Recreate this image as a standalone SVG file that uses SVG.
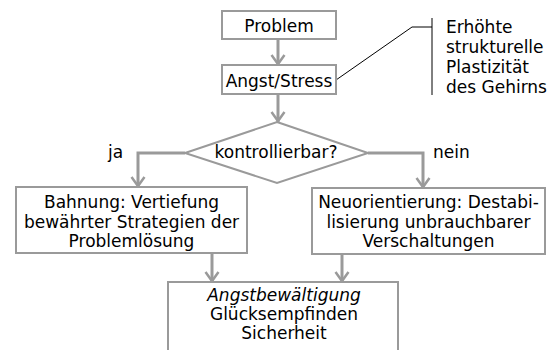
<svg xmlns="http://www.w3.org/2000/svg" width="549" height="350" viewBox="0 0 549 350">
<style>
.box{fill:#fff;stroke:#9a9a9a;stroke-width:2}
.t{font-family:"DejaVu Sans",Verdana,sans-serif;font-size:17px;fill:#000}
.c{text-anchor:middle}
.it{font-style:italic}
.arr{fill:none;stroke:#9a9a9a;stroke-width:3;marker-end:url(#ah)}
.ann{fill:none;stroke:#000;stroke-width:1}
</style>
<defs>
<marker id="ah" markerUnits="userSpaceOnUse" markerWidth="20" markerHeight="20" viewBox="-12 -10 14 20" refX="0" refY="0" orient="auto" overflow="visible">
<path d="M-10,-6.5 L-1,0 L-10,6.5" fill="none" stroke="#9a9a9a" stroke-width="2.5"/>
</marker>
</defs>
<rect width="549" height="350" fill="#fff"/>
<g id="connectors">
<line class="arr" x1="278" y1="39" x2="278" y2="65"/>
<line class="arr" x1="278" y1="94" x2="278" y2="122"/>
<polyline class="arr" points="185,153 138,153 138,187"/>
<polyline class="arr" points="368,153 423,153 423,188"/>
<line class="arr" x1="212" y1="253" x2="212" y2="282"/>
<line class="arr" x1="342" y1="254" x2="342" y2="282"/>
<polyline class="ann" points="336,80 412,27 432,27"/>
</g>
<g id="problem">
<rect class="box" x="222" y="11" width="114" height="28"/>
<text class="t c" x="279" y="32">Problem</text>
</g>
<g id="angst">
<rect class="box" x="222" y="65" width="114" height="29"/>
<text class="t c" x="279" y="87">Angst/Stress</text>
</g>
<g id="annotation">
<line class="ann" x1="432" y1="18" x2="432" y2="95"/>
<text class="t" x="446" y="33">Erhöhte</text>
<text class="t" x="446" y="53">strukturelle</text>
<text class="t" x="446" y="73">Plastizität</text>
<text class="t" x="446" y="93">des Gehirns</text>
</g>
<g id="decision">
<polygon class="box" points="277,122 368,153 277,183 185,153"/>
<text class="t c" x="276" y="158">kontrollierbar?</text>
</g>
<g id="label-ja">
<text class="t" x="108" y="158">ja</text>
</g>
<g id="label-nein">
<text class="t" x="433" y="158">nein</text>
</g>
<g id="bahnung">
<rect class="box" x="16" y="187" width="231" height="66"/>
<text class="t c" x="131.5" y="208">Bahnung: Vertiefung</text>
<text class="t c" x="131.5" y="227.5">bewährter Strategien der</text>
<text class="t c" x="131.5" y="247">Problemlösung</text>
</g>
<g id="neuorientierung">
<rect class="box" x="312" y="188" width="233" height="66"/>
<text class="t c" x="428.5" y="208">Neuorientierung: Destabi-</text>
<text class="t c" x="428.5" y="227.5">lisierung unbrauchbarer</text>
<text class="t c" x="428.5" y="247">Verschaltungen</text>
</g>
<g id="ergebnis">
<rect class="box" x="168" y="282" width="230" height="80"/>
<text class="t c it" x="284" y="301">Angstbewältigung</text>
<text class="t c" x="284" y="320">Glücksempfinden</text>
<text class="t c" x="284" y="339">Sicherheit</text>
</g>
</svg>
